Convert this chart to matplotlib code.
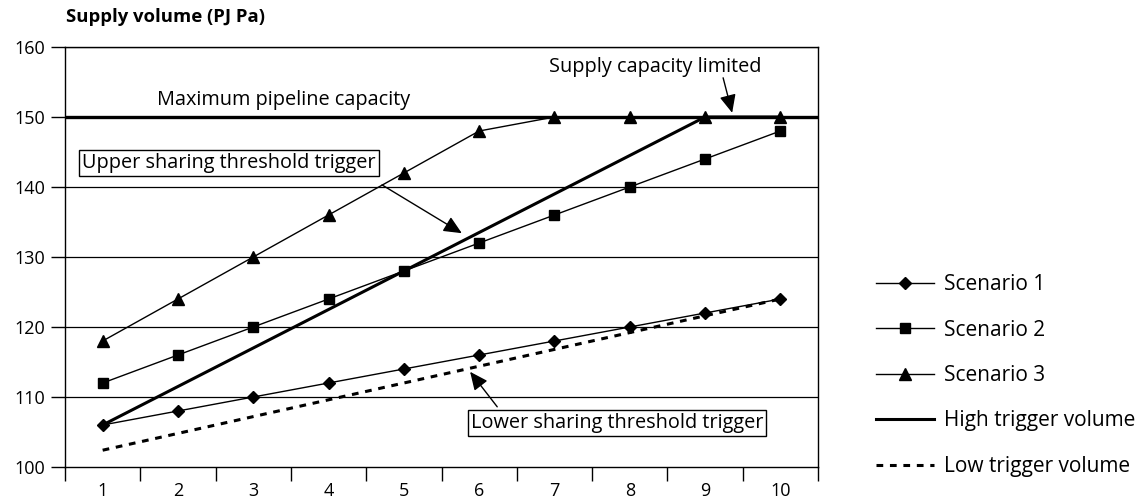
import numpy
import matplotlib
matplotlib.use("Agg")
import matplotlib.pyplot as plt
from matplotlib.ticker import FixedLocator, NullFormatter

plt.rcParams["font.family"] = ["Open Sans", "DejaVu Sans"]

years = [1, 2, 3, 4, 5, 6, 7, 8, 9, 10]
scenario1 = [106, 108, 110, 112, 114, 116, 118, 120, 122, 124]
scenario2 = [112, 116, 120, 124, 128, 132, 136, 140, 144, 148]
scenario3 = [118, 124, 130, 136, 142, 148, 150, 150, 150, 150]
high_trigger = [106, 111.5, 117, 122.5, 128, 133.5, 139, 144.5, 150, 150]
low_trigger = [102.4, 104.8, 107.2, 109.6, 112, 114.4, 116.8, 119.2, 121.6, 124]
max_capacity = 150
y_ticks = [100, 110, 120, 130, 140, 150, 160]

fig = plt.figure(figsize = (11.45, 4.99), dpi = 100)
ax = fig.add_axes([65 / 1145, 32 / 499, 753 / 1145, 420 / 499])

for y in y_ticks[1:]:
    ax.axhline(y, color = "black", linewidth = 0.9, zorder = 1)
ax.axhline(max_capacity, color = "black", linewidth = 2.4, zorder = 2)

ax.plot(years, scenario1, "k-", marker = "D", markersize = 6.5, linewidth = 1,
        label = "Scenario 1", zorder = 4)
ax.plot(years, scenario2, "k-", marker = "s", markersize = 7.5, linewidth = 1,
        label = "Scenario 2", zorder = 4)
ax.plot(years, scenario3, "k-", marker = "^", markersize = 8.5, linewidth = 1,
        label = "Scenario 3", zorder = 4)
ax.plot(years, high_trigger, "k-", linewidth = 2.2, label = "High trigger volume",
        zorder = 3)
ax.plot(years, low_trigger, "k--", linewidth = 2.2, dashes = (2.2, 2.2),
        label = "Low trigger volume", zorder = 3)

ax.set_xlim(0.5, 10.5)
ax.set_ylim(100, 160)
ax.set_yticks(y_ticks)
ax.xaxis.set_major_locator(FixedLocator(numpy.arange(0.5, 11, 1)))
ax.xaxis.set_major_formatter(NullFormatter())
ax.xaxis.set_minor_locator(FixedLocator(years))
ax.set_xticklabels([str(y) for y in years], minor = True)
ax.tick_params(axis = "x", which = "major", direction = "out", length = 10,
               width = 1)
ax.tick_params(axis = "x", which = "minor", length = 0, pad = 11, labelsize = 13)
ax.tick_params(axis = "y", direction = "out", length = 10, width = 1,
               labelsize = 13, pad = 4)
for s in ax.spines.values():
    s.set_linewidth(1)

fig.text(66 / 1145, 1 - 17 / 499, "Supply volume (PJ Pa)", fontsize = 13.3,
         fontweight = "bold", va = "center", ha = "left")

ax.text(3.40, 152.4, "Maximum pipeline capacity", fontsize = 14.3, ha = "center",
        va = "center")
ax.text(8.34, 157.1, "Supply capacity limited", fontsize = 14.3, ha = "center",
        va = "center")
ax.text(2.68, 143.4, "Upper sharing threshold trigger", fontsize = 14.3,
        ha = "center", va = "center", zorder = 6,
        bbox = dict(boxstyle = "square,pad=0.15", fc = "white", ec = "black",
                    lw = 1))
ax.text(7.83, 106.3, "Lower sharing threshold trigger", fontsize = 14.3,
        ha = "center", va = "center", zorder = 6,
        bbox = dict(boxstyle = "square,pad=0.15", fc = "white", ec = "black",
                    lw = 1))

arrow = dict(arrowstyle = "-|>,head_length=1.1,head_width=0.5", color = "black",
             lw = 1, shrinkA = 0, shrinkB = 0)
ax.annotate("", xy = (5.77, 133.4), xytext = (4.71, 140.3), arrowprops = arrow,
            zorder = 5)
ax.annotate("", xy = (5.88, 113.6), xytext = (6.24, 108.6), arrowprops = arrow,
            zorder = 5)
ax.annotate("", xy = (9.36, 150.6), xytext = (9.24, 155.6), arrowprops = arrow,
            zorder = 5)

fig.legend(loc = "upper left", bbox_to_anchor = (868 / 1145, 1 - 266 / 499),
           frameon = False, fontsize = 15, labelspacing = 1.17,
           handlelength = 2.75, handletextpad = 0.5, borderaxespad = 0)

fig.savefig("out.png", dpi = 100)
